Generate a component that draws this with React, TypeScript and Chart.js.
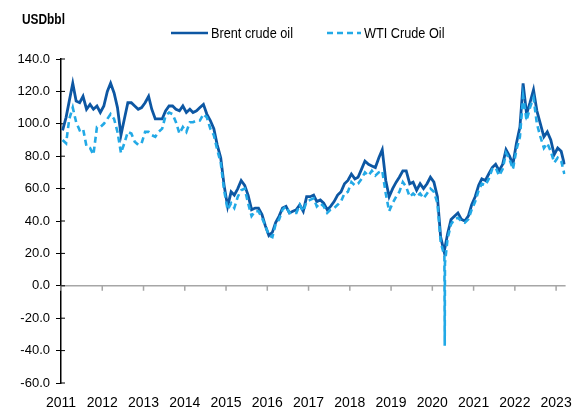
import React, { useEffect, useRef } from 'react';
import { Chart, registerables } from 'chart.js';

Chart.register(...registerables);

const FONT = "'Liberation Sans', Arial, sans-serif";
const NARROW = 0.82;

const START_YEAR = 2011;
const yearTicks = [2011, 2012, 2013, 2014, 2015, 2016, 2017, 2018, 2019, 2020, 2021, 2022, 2023];
const yTickValues = [-60, -40, -20, 0, 20, 40, 60, 80, 100, 120, 140];

// Monthly values (USD/bbl), Jan 2011 .. Mar 2023
const brentMonthly = [
  96, 104, 114, 125, 114, 113, 117, 109, 112, 109, 111, 107,
  111, 120, 125, 119, 110, 93, 103, 113, 113, 111, 109, 110,
  113, 117, 109, 103, 103, 103, 108, 111, 111, 109, 108, 111,
  107, 109, 107, 108, 110, 112, 106, 102, 97, 87, 79, 62,
  49, 58, 56, 60, 65, 62, 56, 47, 48, 48, 44, 37,
  31, 33, 39, 43, 48, 49, 45, 46, 47, 50, 46, 55,
  55, 56, 52, 53, 51, 47, 49, 52, 56, 58, 63, 65,
  69, 66, 67, 72, 77, 75, 74, 73, 79, 84, 65, 55,
  60, 64, 67, 71, 71, 63, 64, 59, 63, 60, 63, 67,
  64, 55, 30, 21, 32, 41, 43, 45, 41, 40, 43, 50,
  55, 62, 66, 65, 69, 73, 75, 71, 75, 84, 80, 75,
  88, 98, 125, 106, 113, 121, 108, 100, 92, 95, 90, 81,
  85, 83, 75,
];

const wtiMonthly = [
  90, 88, 103, 110, 101, 96, 97, 86, 85, 81, 98, 98,
  100, 103, 106, 103, 95, 82, 88, 95, 94, 89, 87, 88,
  95, 95, 93, 92, 95, 97, 105, 107, 106, 101, 94, 98,
  95, 101, 101, 102, 102, 106, 104, 97, 93, 84, 76, 59,
  47, 51, 48, 55, 59, 60, 51, 43, 46, 46, 42, 37,
  31, 30, 38, 41, 47, 49, 45, 45, 45, 50, 46, 52,
  53, 54, 49, 51, 49, 45, 47, 48, 50, 52, 57, 58,
  64, 62, 63, 66, 70, 68, 71, 68, 70, 71, 57, 46,
  51, 55, 58, 64, 61, 55, 57, 55, 57, 54, 57, 60,
  58, 51, 27, 19, 29, 38, 41, 42, 40, 39, 41, 47,
  52, 59, 63, 62, 66, 72, 73, 68, 72, 82, 78, 72,
  84, 92, 117, 102, 110, 116, 100, 92, 85, 88, 83, 76,
  79, 77, 69,
];

// Daily observations around the April 2020 negative WTI settlement
const wtiSpikeDates = ['2020-04-17', '2020-04-20', '2020-04-22'];
const wtiSpikeValues = [18, -37, 14];

function decimalYear(y: number, m: number, d: number): number {
  const start = Date.UTC(y, 0, 1);
  const end = Date.UTC(y + 1, 0, 1);
  return y + (Date.UTC(y, m, d) - start) / (end - start);
}

function monthlyPoints(values: number[]) {
  return values.map((v, i) => ({
    x: decimalYear(START_YEAR + Math.floor(i / 12), i % 12, 15),
    y: v,
  }));
}

function withExtra(points: { x: number; y: number }[], dates: string[], values: number[]) {
  const extra = dates.map((s, i) => {
    const [yy, mm, dd] = s.split('-').map(Number);
    return { x: decimalYear(yy, mm - 1, dd), y: values[i] };
  });
  return [...points, ...extra].sort((a, b) => a.x - b.x);
}

const BRENT_COLOR = '#0D57A3';
const WTI_COLOR = '#22A9E6';

function narrowText(ctx: CanvasRenderingContext2D, text: string, x: number, y: number) {
  ctx.save();
  ctx.translate(x, y);
  ctx.scale(NARROW, 1);
  ctx.fillText(text, 0, 0);
  ctx.restore();
}

const decorPlugin = {
  id: 'decor',
  beforeDatasetsDraw(chart: any) {
    const { ctx, chartArea, scales } = chart;
    const xs = scales.x;
    const ys = scales.y;
    const y0 = ys.getPixelForValue(0);
    ctx.save();
    ctx.strokeStyle = '#a6a6a6';
    ctx.lineWidth = 1.5;
    ctx.beginPath();
    ctx.moveTo(chartArea.left, y0);
    ctx.lineTo(chartArea.right, y0);
    for (const yr of yearTicks) {
      const px = xs.getPixelForValue(yr);
      ctx.moveTo(px, y0);
      ctx.lineTo(px, y0 + 5);
    }
    ctx.stroke();
    ctx.strokeStyle = '#000';
    ctx.lineWidth = 1;
    ctx.beginPath();
    for (const v of yTickValues) {
      const py = ys.getPixelForValue(v);
      ctx.moveTo(chartArea.left, py);
      ctx.lineTo(chartArea.left + 4, py);
    }
    ctx.stroke();
    ctx.restore();
  },
  afterDraw(chart: any) {
    const { ctx } = chart;
    ctx.save();
    ctx.fillStyle = '#000';
    ctx.textBaseline = 'middle';
    ctx.textAlign = 'left';
    ctx.font = `bold 14.5px ${FONT}`;
    narrowText(ctx, 'USDbbl', 22, 20);

    const ly = 33;
    ctx.lineWidth = 2.5;
    ctx.strokeStyle = BRENT_COLOR;
    ctx.setLineDash([]);
    ctx.beginPath();
    ctx.moveTo(171, ly);
    ctx.lineTo(208, ly);
    ctx.stroke();

    ctx.strokeStyle = WTI_COLOR;
    ctx.setLineDash([6, 4]);
    ctx.beginPath();
    ctx.moveTo(327, ly);
    ctx.lineTo(361, ly);
    ctx.stroke();
    ctx.setLineDash([]);

    ctx.font = `15.5px ${FONT}`;
    ctx.fillStyle = '#000';
    narrowText(ctx, 'Brent crude oil', 211, ly + 1);
    narrowText(ctx, 'WTI Crude Oil', 364, ly + 1);
    ctx.restore();
  },
};

export default function App() {
  const canvasRef = useRef<HTMLCanvasElement | null>(null);

  useEffect(() => {
    if (!canvasRef.current) return;
    const brentData = monthlyPoints(brentMonthly);
    const wtiData = withExtra(monthlyPoints(wtiMonthly), wtiSpikeDates, wtiSpikeValues);

    const chart = new Chart(canvasRef.current, {
      type: 'line',
      data: {
        datasets: [
          {
            label: 'Brent crude oil',
            data: brentData,
            borderColor: BRENT_COLOR,
            backgroundColor: BRENT_COLOR,
            borderWidth: 2.8,
            pointRadius: 0,
            tension: 0,
            order: 2,
          },
          {
            label: 'WTI Crude Oil',
            data: wtiData,
            borderColor: WTI_COLOR,
            backgroundColor: WTI_COLOR,
            borderWidth: 2.6,
            borderDash: [6, 4],
            pointRadius: 0,
            tension: 0,
            order: 1,
          },
        ],
      },
      options: {
        animation: false,
        responsive: true,
        maintainAspectRatio: false,
        layout: { padding: { top: 59, right: 17, bottom: 0, left: 0 } },
        plugins: {
          legend: { display: false },
          tooltip: { enabled: false },
          title: { display: false },
        },
        scales: {
          x: {
            type: 'linear',
            min: 2011,
            max: 2023.23,
            ticks: {
              stepSize: 1,
              includeBounds: false,
              autoSkip: false,
              maxRotation: 0,
              color: '#000',
              font: { family: FONT, size: 14 },
              padding: 12,
              callback: (v: any) => (Number.isInteger(Number(v)) ? String(v) : ''),
            },
            grid: { display: false, drawTicks: false },
            border: { display: false },
            afterFit: (s: any) => {
              s.height = 27;
            },
          },
          y: {
            min: -60,
            max: 140,
            ticks: {
              stepSize: 20,
              color: '#000',
              font: { family: FONT, size: 13 },
              padding: 6,
              callback: (v: any) => Number(v).toFixed(1),
            },
            grid: { drawOnChartArea: false, drawTicks: true, tickLength: 5, color: '#000', lineWidth: 1 },
            border: { display: true, color: '#000', width: 1.5 },
            afterFit: (s: any) => {
              s.width = 61;
            },
          },
        },
      },
      plugins: [decorPlugin],
    });
    return () => chart.destroy();
  }, []);

  return (
    <div style={{ position: 'fixed', left: 0, top: 0, width: 584, height: 410, background: '#fff' }}>
      <canvas ref={canvasRef} />
    </div>
  );
}
